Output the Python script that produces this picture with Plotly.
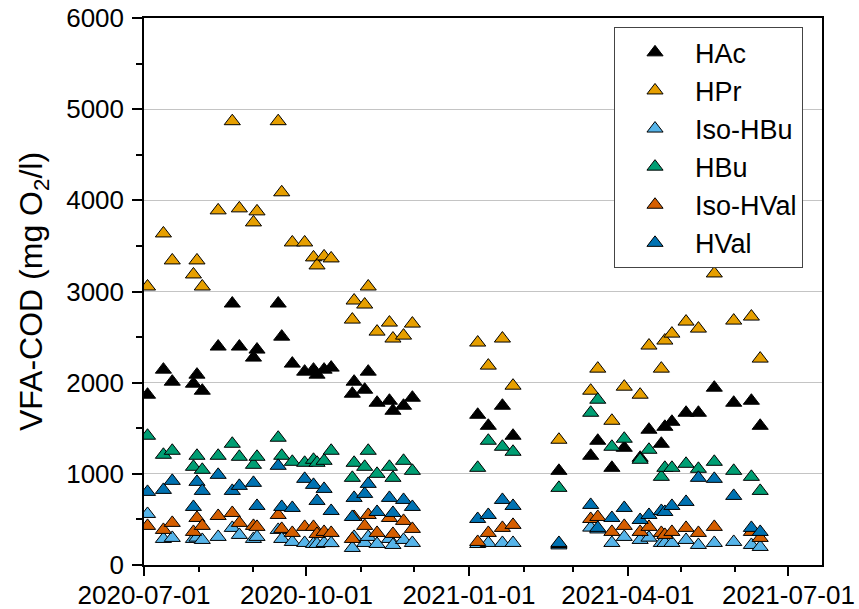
import plotly.graph_objects as go

dates = [
    "2020-07-03", "2020-07-12", "2020-07-17", "2020-07-29", "2020-07-31", "2020-08-03",
    "2020-08-12", "2020-08-20", "2020-08-24", "2020-09-01", "2020-09-03", "2020-09-15",
    "2020-09-17", "2020-09-23", "2020-09-30", "2020-10-05", "2020-10-07", "2020-10-11",
    "2020-10-15", "2020-10-27", "2020-10-28", "2020-11-03", "2020-11-05", "2020-11-10",
    "2020-11-17", "2020-11-19", "2020-11-25", "2020-11-30", "2021-01-06", "2021-01-12",
    "2021-01-20", "2021-01-26", "2021-02-21", "2021-03-11", "2021-03-15", "2021-03-23",
    "2021-03-30", "2021-04-08", "2021-04-13", "2021-04-20", "2021-04-22", "2021-04-26",
    "2021-05-04", "2021-05-11", "2021-05-20", "2021-05-31", "2021-06-10", "2021-06-15",
]

hac = [1868, 2143, 2011, 1989, 2088, 1912, 2396, 2868, 2396, 2275, 2363, 2868,
       2505, 2209, 2121, 2143, 2088, 2143, 2165, 1879, 2011, 1923, 2121, 1780,
       1802, 1692, 1747, 1835, 1648, 1527, 1747, 1418, 1033, 1198, 1363, 1066,
       1286, 1176, 1484, 1330, 1516, 1571, 1670, 1670, 1945, 1780, 1802, 1527]

hpr = [3055, 3637, 3341, 3187, 3341, 3055, 3890, 4868, 3912, 3758, 3879, 4868,
       4088, 3538, 3538, 3374, 3286, 3385, 3363, 2692, 2901, 2857, 3055, 2560,
       2659, 2484, 2516, 2648, 2440, 2187, 2484, 1967, 1374, 1912, 2154, 1582,
       1956, 1868, 2407, 2154, 2462, 2538, 2670, 2593, 3198, 2681, 2725, 2264]

iso_hbu = [560, 286, 297, 286, 300, 275, 308, 407, 330, 286, 308, 385,
           286, 253, 242, 231, 231, 242, 240, 187, 308, 242, 308, 231,
           286, 220, 275, 242, 230, 242, 242, 242, 215, 410, 390, 242,
           308, 275, 300, 242, 242, 242, 275, 220, 242, 253, 220, 198]

hbu = [1418, 1209, 1253, 1077, 1198, 1044, 1198, 1330, 1187, 1099, 1187, 1396,
       1198, 1132, 1121, 1154, 1121, 1143, 1253, 956, 1121, 1077, 1253, 1000,
       1077, 956, 1143, 1033, 1066, 1363, 1297, 1242, 846, 1670, 1813, 1297,
       1385, 1154, 1264, 967, 1066, 1066, 1110, 1055, 1132, 1033, 967, 813]

iso_hval = [429, 385, 462, 363, 516, 429, 538, 571, 462, 429, 418, 549,
            396, 352, 418, 418, 341, 363, 352, 286, 527, 429, 549, 352,
            516, 341, 484, 396, 253, 352, 407, 440, 230, 505, 527, 363,
            429, 363, 418, 352, 330, 363, 407, 352, 418, None, 363, 297]

hval = [802, 824, 923, 637, 912, 813, 989, 813, 868, 901, 648, 1088,
        637, 626, 945, 879, 703, 835, 593, 527, 736, 780, 890, 582,
        736, 571, 714, 637, 505, 549, 714, 648, 242, 659, 407, 516,
        626, 494, 549, 593, 582, 648, 692, 956, 945, 758, 407, 363]

series_names = ["HAc", "HPr", "Iso-HBu", "HBu", "Iso-HVal", "HVal"]
series_values = [hac, hpr, iso_hbu, hbu, iso_hval, hval]
series_colors = ["#000000", "#E69F00", "#56B4E9", "#009E73", "#D55E00", "#0072B2"]

x_tickvals = ["2020-07-01", "2020-10-01", "2021-01-01", "2021-04-01", "2021-07-01"]

FONT = "Arial, Liberation Sans, sans-serif"

fig = go.Figure()
for name, vals, col in zip(series_names, series_values, series_colors):
    fig.add_trace(go.Scatter(
        x=dates, y=vals, name=name, mode="markers",
        marker=dict(symbol="triangle-up", size=14, color=col,
                    line=dict(color="#000000", width=1)),
    ))

fig.update_layout(
    width=859, height=609,
    margin=dict(l=144, r=37, t=18, b=44),
    paper_bgcolor="white", plot_bgcolor="white",
    font=dict(family=FONT, color="black", size=26),
    showlegend=True,
    legend=dict(
        x=0.972, y=0.983, xanchor="right", yanchor="top",
        font=dict(family=FONT, size=27, color="black"),
        bordercolor="#444444", borderwidth=1, bgcolor="white",
        itemwidth=70,
    ),
)

fig.update_xaxes(
    type="date", automargin=False,
    range=["2020-07-01", "2021-07-20"],
    tickmode="array", tickvals=x_tickvals, ticktext=x_tickvals,
    ticks="outside", ticklen=9, tickwidth=1.5, tickcolor="black",
    ticklabelstandoff=-3,
    minor=dict(dtick="M1", tick0="2020-07-01", ticks="outside", ticklen=5,
               tickwidth=1.5, tickcolor="black", showgrid=False),
    showline=True, linecolor="black", linewidth=1.5, mirror=True,
    showgrid=False, zeroline=False,
    tickfont=dict(family=FONT, size=26, color="black"),
)

fig.update_yaxes(
    automargin=False,
    range=[0, 6000], dtick=1000, tick0=0,
    ticks="outside", ticklen=10, tickwidth=1.5, tickcolor="black",
    ticklabelstandoff=3,
    minor=dict(dtick=500, ticks="outside", ticklen=6, tickwidth=1.5,
               tickcolor="black", showgrid=False),
    showline=True, linecolor="black", linewidth=1.5, mirror=True,
    showgrid=True, gridcolor="#c4c4c4", gridwidth=1, zeroline=False,
    tickfont=dict(family=FONT, size=26, color="black"),
    title=dict(text="VFA-COD (mg O<sub>2</sub>/l)",
               font=dict(family=FONT, size=32, color="black"), standoff=14),
)

fig.write_html("out.html")
